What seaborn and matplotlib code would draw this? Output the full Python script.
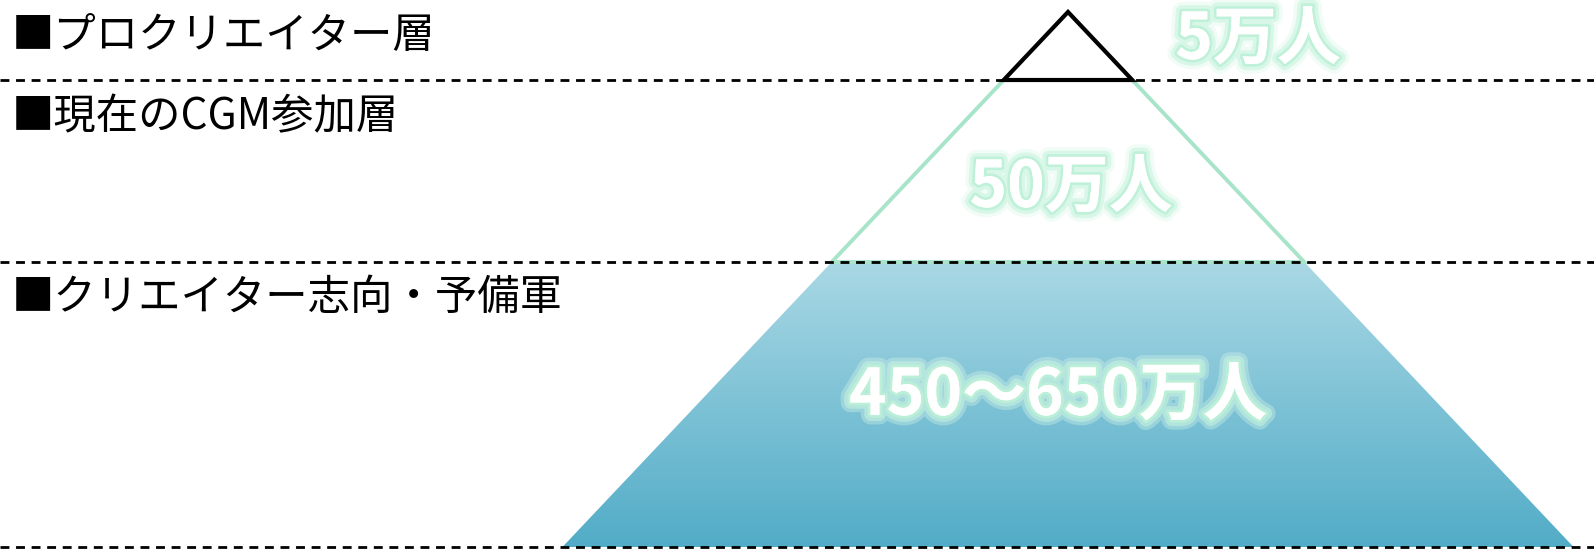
import matplotlib
matplotlib.use("Agg")
import matplotlib.pyplot as plt
import matplotlib.patheffects as pe
from matplotlib.patches import Polygon
from matplotlib.colors import LinearSegmentedColormap
import numpy as np
import seaborn as sns

# -------------------------------
# Data
# -------------------------------
layer_names = ["■プロクリエイター層", "■現在のCGM参加層", "■クリエイター志向・予備軍"]
layer_values = ["5万人", "50万人", "450〜650万人"]
# layer boundaries (pixel rows, top to bottom): apex, top, middle, bottom
boundaries = [12, 80, 262, 547]
apex_x = 1068
half_slope = 0.945  # half width grows this much per pixel going down

sns.set_theme(style="white")
plt.rcParams["font.family"] = ["Noto Sans CJK JP", "DejaVu Sans"]

W, H = 1594, 550
fig = plt.figure(figsize=(W / 100, H / 100), dpi=100)
ax = fig.add_axes([0, 0, 1, 1])
ax.set_xlim(0, W)
ax.set_ylim(H, 0)
ax.axis("off")


def half_width(y):
    return (y - boundaries[0]) * half_slope


def trapezoid(y0, y1):
    return [
        (apex_x - half_width(y0), y0),
        (apex_x + half_width(y0), y0),
        (apex_x + half_width(y1), y1),
        (apex_x - half_width(y1), y1),
    ]


# -------------------------------
# Bottom layer with gradient
# -------------------------------
cmap = LinearSegmentedColormap.from_list("blu", ["#a9d8e4", "#52acc7"])
grad = np.linspace(0, 1, 256).reshape(-1, 1)
bottom_poly = Polygon(trapezoid(boundaries[2], boundaries[3]), closed=True,
                      facecolor="none", edgecolor="none")
ax.add_patch(bottom_poly)
img = ax.imshow(grad, cmap=cmap, aspect="auto",
                extent=[apex_x - half_width(boundaries[3]), apex_x + half_width(boundaries[3]),
                        boundaries[3], boundaries[2]], zorder=1)
img.set_clip_path(bottom_poly)

# middle layer outline (green triangle down to middle boundary)
mid_tri = Polygon([(apex_x, boundaries[0]),
                   (apex_x + half_width(boundaries[2]), boundaries[2]),
                   (apex_x - half_width(boundaries[2]), boundaries[2])],
                  closed=True, facecolor="white", edgecolor="#a8e4c9", lw=2.8, zorder=2)
ax.add_patch(mid_tri)

# top layer (black outline)
top_tri = Polygon([(apex_x, boundaries[0]),
                   (apex_x + half_width(boundaries[1]), boundaries[1]),
                   (apex_x - half_width(boundaries[1]), boundaries[1])],
                  closed=True, facecolor="white", edgecolor="black", lw=3,
                  joinstyle="miter", zorder=3)
ax.add_patch(top_tri)

# dashed separators
for y in boundaries[1:]:
    ax.axhline(y, color="black", lw=2, linestyle=(0, (3.2, 2.4)), zorder=4)

# -------------------------------
# Labels
# -------------------------------
name_y = [36, 117, 298]
for name, y in zip(layer_names, name_y):
    ax.text(12, y, name, fontsize=30.5, color="black", ha="left", va="center", zorder=5)

glow = [
    pe.withStroke(linewidth=14, foreground="#d8f8ea", alpha=0.35),
    pe.withStroke(linewidth=9, foreground="#c6f4de", alpha=0.55),
    pe.withStroke(linewidth=4, foreground="#bdf1d8", alpha=0.9),
    pe.Normal(),
]
value_pos = [(1258, 40), (1071, 188), (1058, 396)]
for val, (x, y) in zip(layer_values, value_pos):
    ax.text(x, y, val, fontsize=46, fontweight="bold", color="white",
            ha="center", va="center", path_effects=glow, zorder=6)

fig.savefig("out.png", dpi=100)
